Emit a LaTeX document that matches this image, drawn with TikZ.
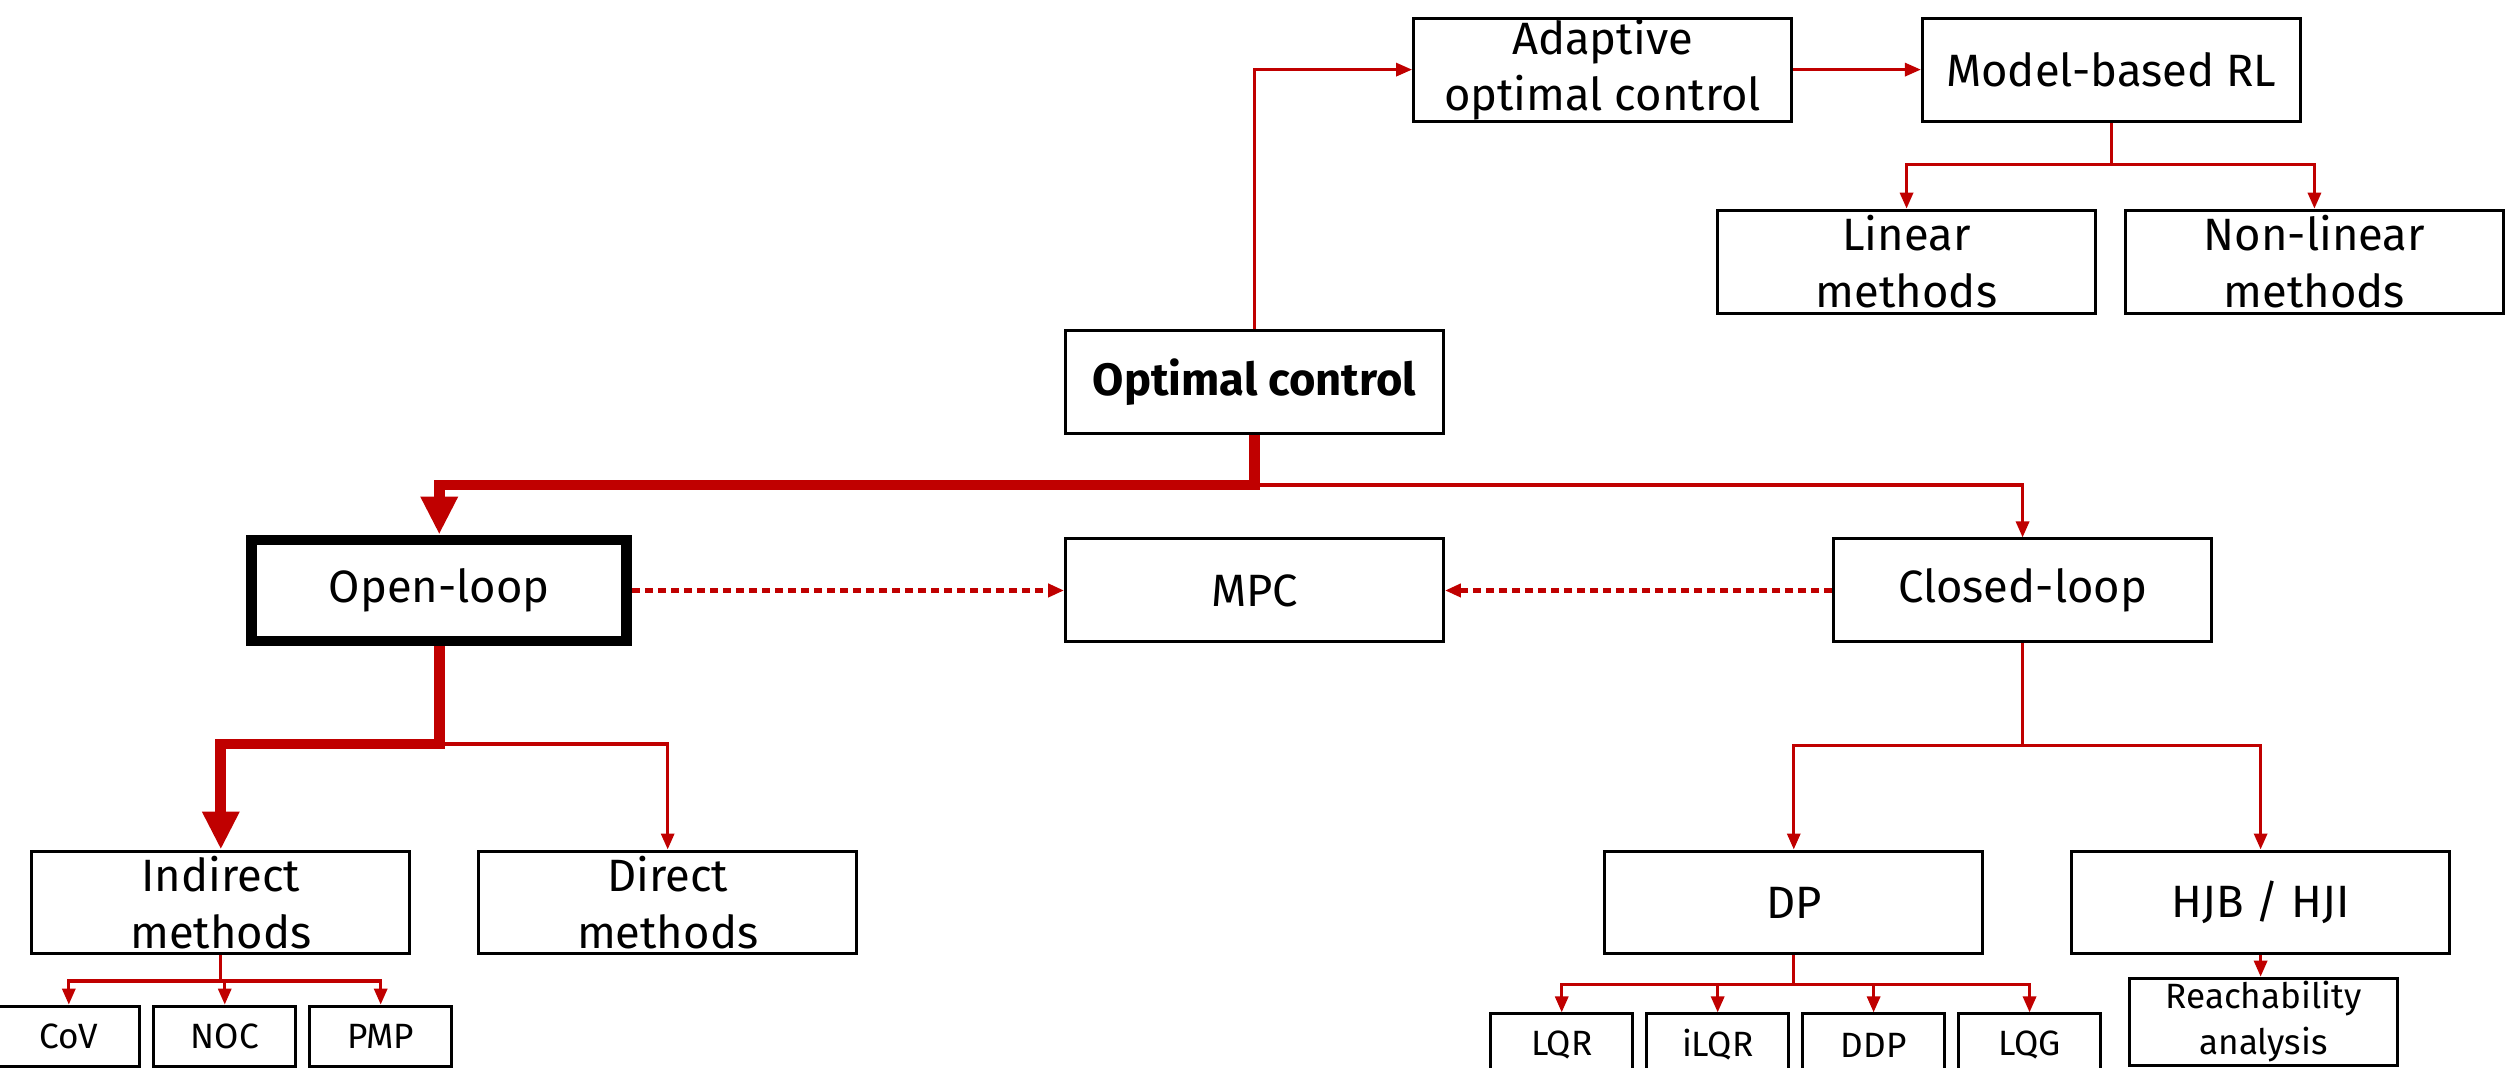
\documentclass[tikz,border=0pt]{standalone}
\usepackage{fontspec}
\setmainfont{Fira Sans}
\usepackage{tikz}
\usetikzlibrary{arrows.meta, positioning}
\definecolor{ocred}{RGB}{192,0,0}

\begin{document}
\begin{tikzpicture}[
    x=0.016cm, y=-0.016cm,
    every node/.style={font=\fontsize{12.9}{16}\selectfont},
    block/.style={rectangle, draw, line width=0.85pt, minimum width=3.78cm, minimum height=1.03cm, inner sep=0pt, align=center},
    mainblock/.style={block, line width=3.1pt, minimum width=3.75cm, minimum height=1.01cm},
    leaf/.style={rectangle, draw, line width=0.85pt, minimum width=1.42cm, minimum height=0.62cm, inner sep=0pt, align=center, font=\fontsize{10}{13}\selectfont},
    arrow/.style={-{Triangle[length=0.16cm, width=0.13cm]}, draw=ocred, line width=0.9pt},
    thickarrow/.style={-{Triangle[length=0.38cm, width=0.35cm]}, draw=ocred, line width=3.1pt},
    dasharrow/.style={arrow, line width=1.2pt, dash pattern=on 0.08cm off 0.05cm}
]
\useasboundingbox (0,0) rectangle (1568,667);

% top row
\node[block] (adaptive) at (1001.5,43.5) {Adaptive\\optimal control};
\node[block, right=1.28cm of adaptive] (mbrl) {Model-based RL};
\node[block] (linear) at (1191.5,163.5) {Linear\\methods};
\node[block, right=0.27cm of linear] (nonlinear) {Non-linear\\methods};

% middle
\node[block] (optctrl) at (784,239) {\textbf{Optimal control}};
\node[mainblock] (openloop) at (274.5,369) {Open-loop};
\node[block] (mpc) at (784,369) {MPC};
\node[block] (closedloop) at (1264,369) {Closed-loop};

% methods
\node[block] (indirect) at (138,564) {Indirect\\methods};
\node[block, right=0.66cm of indirect] (direct) {Direct\\methods};
\node[block] (dp) at (1121,564) {DP};
\node[block, right=0.86cm of dp] (hjb) {HJB / HJI};

% leaves
\node[leaf, minimum height=0.6cm] (cov) at (43,647.5) {CoV};
\node[leaf, minimum height=0.6cm, right=0.11cm of cov] (noc) {NOC};
\node[leaf, minimum height=0.6cm, right=0.11cm of noc] (pmp) {PMP};
\node[leaf] (lqr) at (976,653) {LQR};
\node[leaf, right=0.11cm of lqr] (ilqr) {iLQR};
\node[leaf, right=0.11cm of ilqr] (ddp) {DDP};
\node[leaf, right=0.11cm of ddp] (lqg) {LQG};
\node[leaf, minimum width=2.68cm, minimum height=0.87cm] (reach) at (1414.5,638.5) {Reachability\\analysis};

% connectors
\draw[arrow] (optctrl.north) |- (adaptive.west);
\draw[arrow] (adaptive) -- (mbrl);
\draw[arrow] (mbrl.south) -- ++(0,26) coordinate (mbsplit) -| (linear);
\draw[arrow] (mbsplit) -| (nonlinear);

\draw[thickarrow] (optctrl.south) -- ++(0,31) coordinate (ocsplit) -| (openloop);
\draw[arrow] (ocsplit) -| (closedloop);

\draw[dasharrow] (openloop) -- (mpc);
\draw[dasharrow] (closedloop) -- (mpc);

\draw[thickarrow] (openloop.south) -- ++(0,61) coordinate (olsplit) -| (indirect);
\draw[arrow] (olsplit) -| (direct);
\draw[arrow] (closedloop.south) -- ++(0,64) coordinate (clsplit) -| (dp);
\draw[arrow] (clsplit) -| (hjb);

\draw[arrow] (indirect.south) -- ++(0,16) coordinate (insplit) -| (cov);
\foreach \n in {noc,pmp}
    \draw[arrow] (insplit) -| (\n);
\draw[arrow] (dp.south) -- ++(0,18) coordinate (dpsplit) -| (lqr);
\foreach \n in {ilqr,ddp,lqg}
    \draw[arrow] (dpsplit) -| (\n);
\draw[arrow] (hjb.south) -- (hjb.south |- reach.north);
\end{tikzpicture}
\end{document}
